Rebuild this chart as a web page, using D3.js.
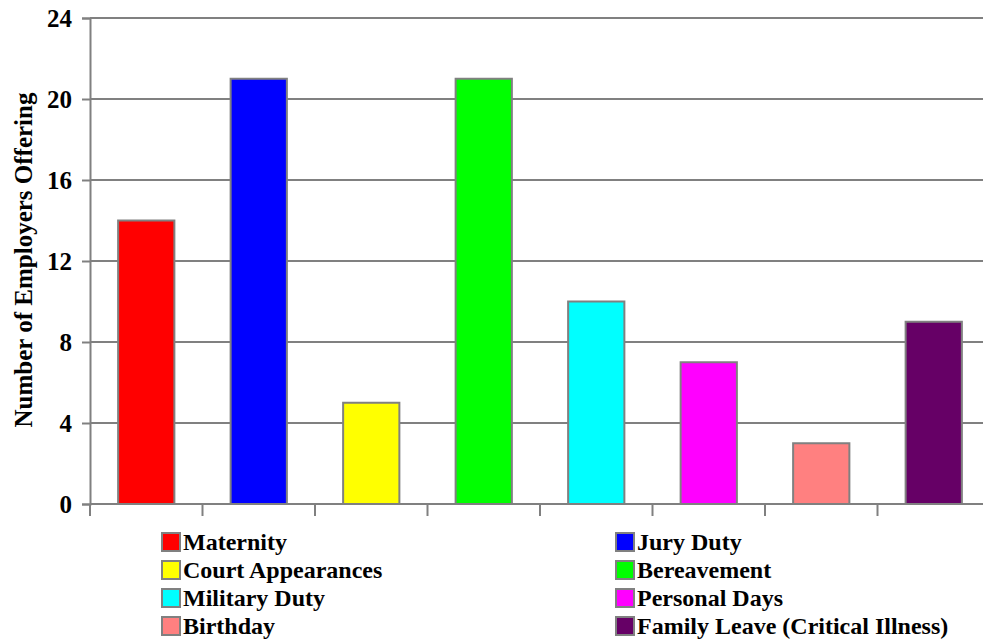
<!DOCTYPE html>
<html>
<head>
<meta charset="utf-8">
<script src="https://cdn.jsdelivr.net/npm/d3@7"></script>
<style>
  body { margin: 0; background: #fff; }
  text { font-family: "Liberation Serif", "Times New Roman", serif; font-weight: bold; }
</style>
</head>
<body>
<script>
var width = 983,
    height = 641;

// data
var categories = ["Maternity", "Jury Duty", "Court Appearances", "Bereavement",
                  "Military Duty", "Personal Days", "Birthday", "Family Leave (Critical Illness)"];
var values = [14, 21, 5, 21, 10, 7, 3, 9];
var colors = ["#ff0000", "#0000ff", "#ffff00", "#00ff00",
              "#00ffff", "#ff00ff", "#ff8080", "#660066"];
var yTicks = [0, 4, 8, 12, 16, 20, 24];

var plotLeft = 90, plotRight = 990, plotTop = 18, plotBottom = 504;
var gray = "#808080";

var svg = d3.select("body").append("svg")
    .attr("width", width)
    .attr("height", height);

var x = d3.scaleBand().domain(categories).range([plotLeft, plotRight]).paddingInner(0.5).paddingOuter(0.25);
var y = d3.scaleLinear().domain([0, 24]).range([plotBottom, plotTop]);

// gridlines
svg.selectAll(".grid")
    .data(yTicks)
    .enter().append("line")
      .attr("x1", plotLeft).attr("x2", plotRight)
      .attr("y1", function(d) { return y(d); })
      .attr("y2", function(d) { return y(d); })
      .style("stroke", gray).style("stroke-width", 2);

// y axis
var yAxis = svg.append("g")
    .attr("transform", "translate(" + plotLeft + ",0)")
    .call(d3.axisLeft(y).tickValues(yTicks).tickSize(8).tickPadding(10));
yAxis.attr("font-family", "Liberation Serif").attr("font-size", 25);
yAxis.select(".domain").style("stroke", gray).style("stroke-width", 2);
yAxis.selectAll(".tick line").style("stroke", gray).style("stroke-width", 2);
yAxis.selectAll("text").style("font-size", "25px").style("fill", "#000")
    .style("font-family", "'Liberation Serif', serif").style("font-weight", "bold");

// x axis (category boundaries)
var bounds = d3.range(categories.length + 1).map(function(i) { return plotLeft + i * x.step(); });
svg.append("line")
    .attr("x1", plotLeft).attr("x2", plotRight).attr("y1", plotBottom).attr("y2", plotBottom)
    .style("stroke", gray).style("stroke-width", 2);
svg.selectAll(".xtick")
    .data(bounds)
    .enter().append("line")
      .attr("x1", function(d) { return d; }).attr("x2", function(d) { return d; })
      .attr("y1", plotBottom).attr("y2", plotBottom + 12)
      .style("stroke", gray).style("stroke-width", 2);

// bars
svg.selectAll(".bar")
    .data(values)
    .enter().append("rect")
      .attr("x", function(d, i) { return x(categories[i]); })
      .attr("width", x.bandwidth())
      .attr("y", function(d) { return y(d); })
      .attr("height", function(d) { return plotBottom - y(d); })
      .style("fill", function(d, i) { return colors[i]; })
      .style("stroke", gray).style("stroke-width", 2);

// y label
svg.append("text")
    .attr("transform", "translate(32,260) rotate(-90)")
    .attr("text-anchor", "middle")
    .style("font-size", "25px")
    .text("Number of Employers Offering");

// legend
var legend = svg.selectAll(".legend")
    .data(categories)
    .enter().append("g")
      .attr("transform", function(d, i) {
        var col = i % 2, row = Math.floor(i / 2);
        return "translate(" + (col ? 616 : 162) + "," + (533 + row * 28) + ")";
      });
legend.append("rect")
    .attr("width", 18).attr("height", 18)
    .style("fill", function(d, i) { return colors[i]; })
    .style("stroke", gray).style("stroke-width", 2);
legend.append("text")
    .attr("x", 21).attr("y", 17)
    .style("font-size", "24px")
    .text(function(d) { return d; });
</script>
</body>
</html>
